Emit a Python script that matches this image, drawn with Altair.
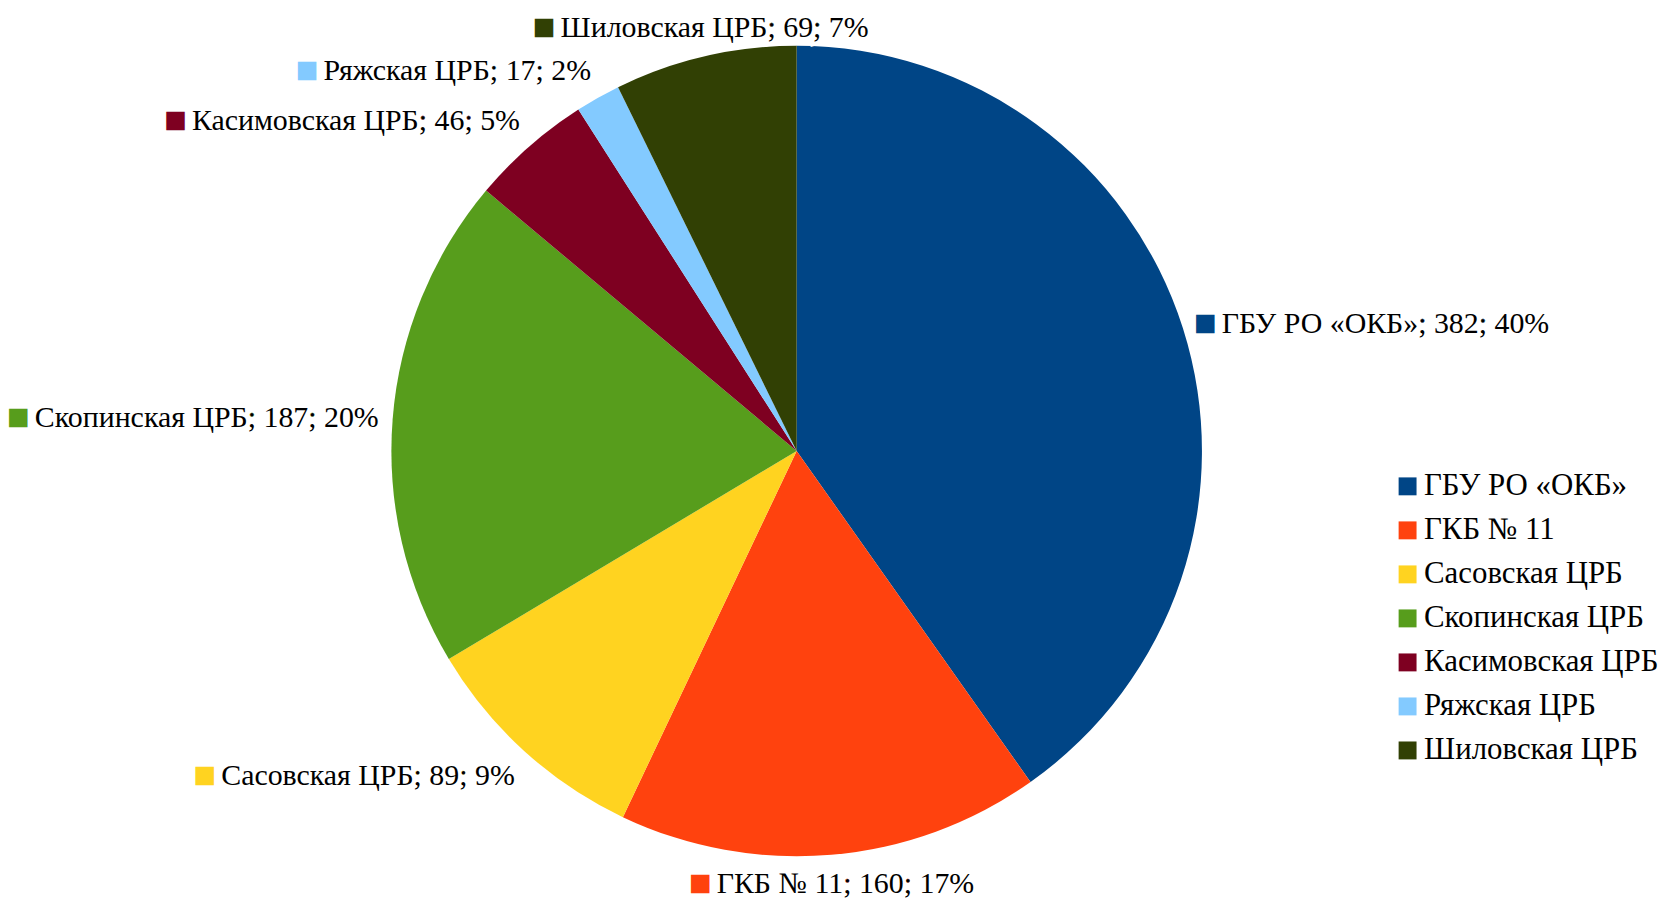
import altair as alt
import pandas as pd

categories = ["ГБУ РО «ОКБ»", "ГКБ № 11", "Сасовская ЦРБ", "Скопинская ЦРБ",
              "Касимовская ЦРБ", "Ряжская ЦРБ", "Шиловская ЦРБ"]
values = [382, 160, 89, 187, 46, 17, 69]
colors = ["#004586", "#ff420e", "#ffd320", "#579d1c", "#7e0021", "#83caff", "#314004"]

df = pd.DataFrame({"idx": list(range(len(categories))), "category": categories, "value": values})

FONT = "Liberation Serif"
F = 30          # data label font size
W = 0.854 * F   # width of "■ " in the font
CX, CY = 792, 443
R = 407
LR = 421

color_scale = alt.Scale(domain=categories, range=colors)

base = alt.Chart(df).transform_joinaggregate(
    total="sum(value)"
).transform_window(
    cum="sum(value)", sort=[alt.SortField("idx")], frame=[None, 0]
).transform_calculate(
    start="(datum.cum - datum.value) / datum.total * 2 * PI",
    end="datum.cum / datum.total * 2 * PI",
    mid="(datum.cum - datum.value / 2) / datum.total * 2 * PI",
).transform_calculate(
    label="datum.category + '; ' + datum.value + '; ' + round(datum.value / datum.total * 100) + '%'",
    side="sin(datum.mid) > 0.35 ? 'left' : (sin(datum.mid) < -0.35 ? 'right' : 'center')",
    vert="cos(datum.mid) > 0.35 ? 'bottom' : (cos(datum.mid) < -0.35 ? 'top' : 'middle')",
).transform_calculate(
    marked="'■ ' + datum.label"
)

arcs = base.mark_arc(radius=R).encode(
    theta=alt.Theta("start:Q", scale=None),
    theta2="end:Q",
    x=alt.value(CX),
    y=alt.value(CY),
    color=alt.Color(
        "category:N", scale=color_scale, sort=categories,
        legend=alt.Legend(
            title=None, orient="none", legendX=1390, legendY=463,
            symbolType="square", symbolSize=324, symbolStrokeWidth=0,
            labelFont=FONT, labelFontSize=31, labelColor="black",
            rowPadding=12.2, labelOffset=1, labelLimit=0, padding=0,
        ),
    ),
)

layers = [arcs]
for side, k in [("left", 1.0), ("center", 0.5), ("right", 0.0)]:
    for vert in ["top", "middle", "bottom"]:
        b = base.transform_filter(f"datum.side == '{side}' && datum.vert == '{vert}'")
        common = dict(theta=alt.Theta("mid:Q", scale=None), x=alt.value(CX), y=alt.value(CY))
        style = dict(radius=LR, align=side, baseline=vert, font=FONT, fontSize=F)
        marker = b.mark_text(strokeWidth=4, **style).encode(
            text="marked:N",
            fill=alt.Fill("category:N", scale=color_scale, legend=None),
            stroke=alt.Stroke("category:N", scale=color_scale, legend=None),
            **common,
        )
        cover = b.mark_text(dx=W * k, fill="white", stroke="white", strokeWidth=8,
                            **style).encode(text="label:N", **common)
        txt = b.mark_text(dx=W * k, fill="black", **style).encode(text="label:N", **common)
        layers += [marker, cover, txt]

chart = alt.layer(*layers).properties(
    width=1662, height=890, autosize=alt.AutoSizeParams(type="none"), padding=0
).configure_view(stroke=None)

chart.save("out.html", embed_options={"renderer": "svg", "actions": False})
